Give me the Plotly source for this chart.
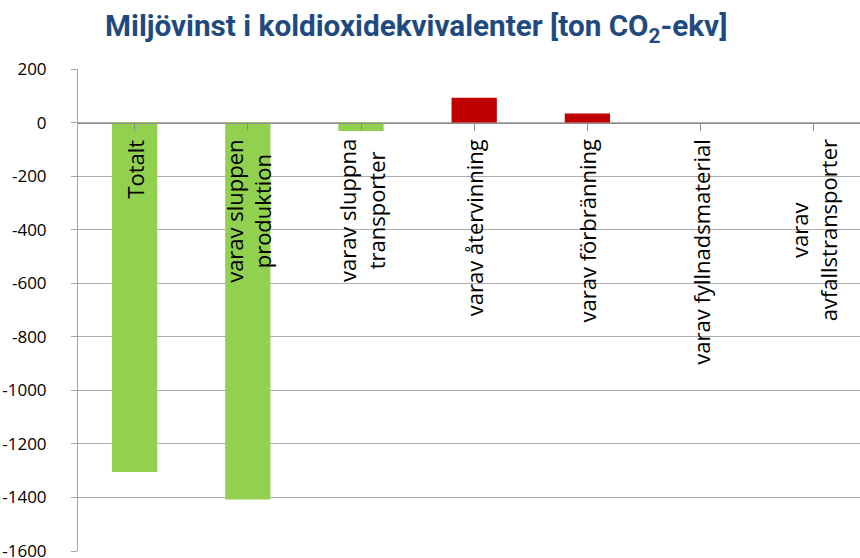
import plotly.graph_objects as go

categories = ["Totalt", "varav sluppen<br>produktion", "varav sluppna<br>transporter",
              "varav återvinning", "varav förbränning", "varav fyllnadsmaterial",
              "varav<br>avfallstransporter"]
values = [-1305, -1408, -32, 93, 34, 0, 0]
y_ticks = [200, 0, -200, -400, -600, -800, -1000, -1200, -1400, -1600]

GREEN = "#92D050"
RED = "#C00000"
colors = [RED if v > 0 else GREEN for v in values]
idx = list(range(len(categories)))

fig = go.Figure()
fig.add_trace(go.Bar(x=idx, y=values, marker=dict(color=colors, line=dict(width=0)),
                     width=0.4, hoverinfo="y"))

for i, c in zip(idx, categories):
    fig.add_annotation(x=i, y=0, text=c, textangle=-90, showarrow=False,
                       xanchor="center", yanchor="top", yshift=-15,
                       font=dict(family="Open Sans", size=22, color="#000000"),
                       align="center")

ymin, ymax = -1600, 200
fig.update_layout(
    width=860, height=558,
    margin=dict(l=78, r=0, t=69, b=7, autoexpand=False),
    paper_bgcolor="white", plot_bgcolor="white",
    showlegend=False,
    title=dict(text="<b>Miljövinst i koldioxidekvivalenter [ton CO<sub>2</sub>-ekv]</b>",
               x=0.484, xanchor="center", xref="container",
               y=1 - 26 / 558, yanchor="middle", yref="container",
               font=dict(family="Roboto", size=29.7, color="#1F4A7F")),
    yaxis=dict(range=[ymin, ymax], tickvals=y_ticks, ticktext=[str(t) for t in y_ticks],
               showgrid=True, gridcolor="#ADADAD", gridwidth=1, zeroline=False,
               showline=True, linecolor="#A6A6A6", linewidth=1,
               ticks="outside", ticklen=6, tickcolor="#A6A6A6",
               ticklabelstandoff=21, automargin=False, ticklabeloverflow="allow",
               tickfont=dict(family="Open Sans", size=17, color="#000000")),
    xaxis=dict(range=[-0.5, -0.5 + 782 / 113.2], tickvals=idx, showticklabels=False,
               anchor="free", position=(0 - ymin) / (ymax - ymin),
               showline=True, linecolor="#8C8C8C", linewidth=1,
               ticks="outside", ticklen=7, tickcolor="#8C8C8C", tickson="boundaries",
               showgrid=False, zeroline=False, automargin=False),
)

fig.write_html("out.html", config={"displayModeBar": False},
               post_script="document.body.style.margin='0';document.body.style.overflow='hidden';")
